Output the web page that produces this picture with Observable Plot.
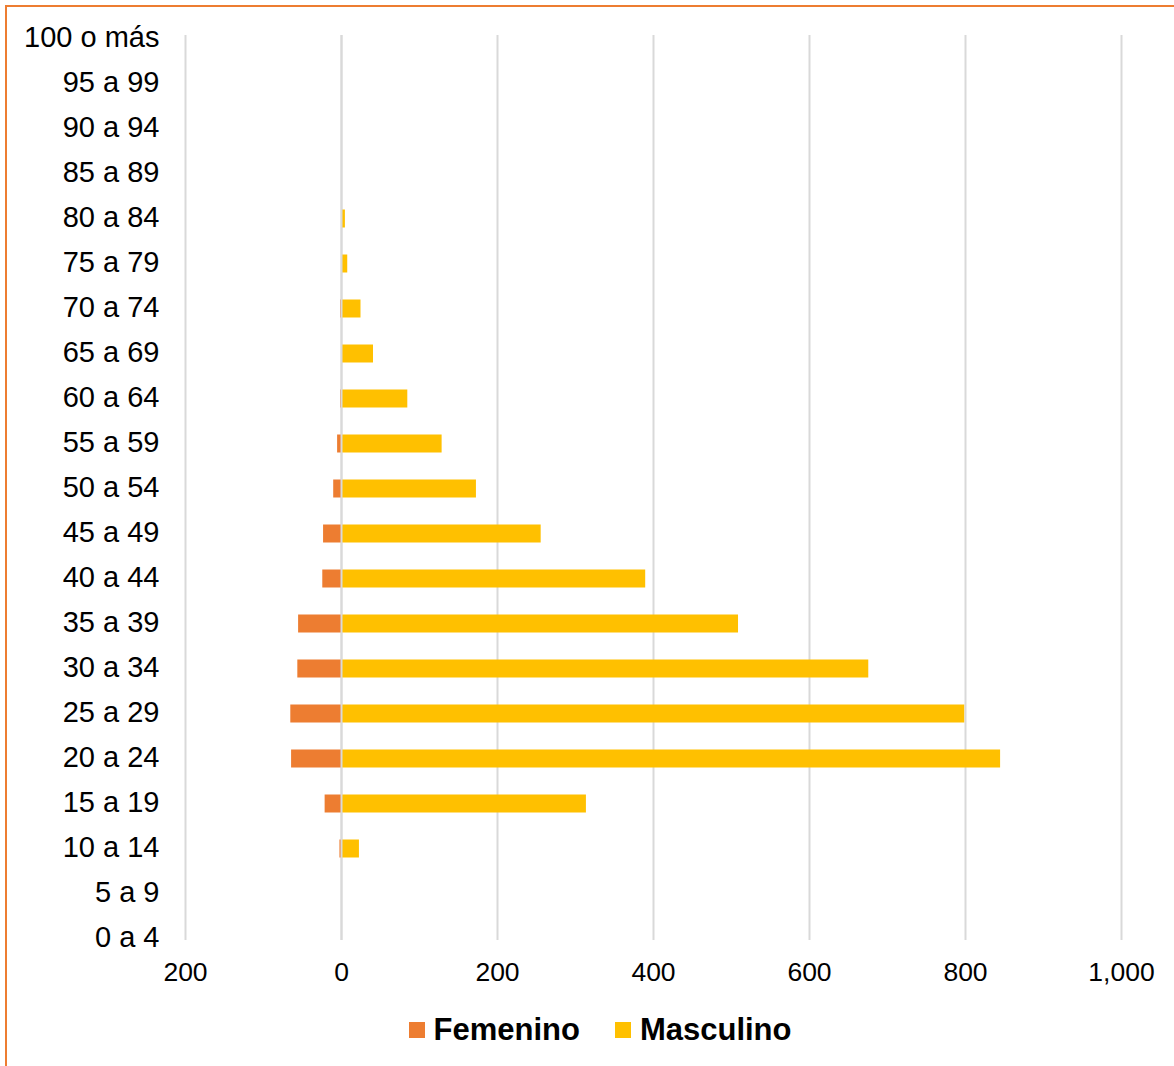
<!DOCTYPE html>
<html>
<head>
<meta charset="utf-8">
<script src="https://cdn.jsdelivr.net/npm/d3@7"></script>
<script src="https://cdn.jsdelivr.net/npm/@observablehq/plot@0.6"></script>
<style>
  html, body { margin: 0; padding: 0; background: #fff; overflow: hidden; }
  body { width: 1174px; height: 1066px; position: relative; font-family: "Liberation Sans", Arial, sans-serif; }
  #frame { position: absolute; left: 5px; top: 5px; width: 1200px; height: 1100px;
           border-left: 2px solid #ED7D31; border-top: 2px solid #ED7D31; box-sizing: border-box; }
  #chart { position: absolute; left: 0; top: 0; }
  #legend { position: absolute; left: 0; top: 1000px; width: 1174px; height: 60px; padding-left: 26px; box-sizing: border-box;
            display: flex; justify-content: center; align-items: center; gap: 35px;
            font-weight: bold; font-size: 31px; color: #000; }
  .item { display: flex; align-items: center; gap: 9px; }
  .sw { width: 16px; height: 16px; display: inline-block; }
</style>
</head>
<body>
<div id="frame"></div>
<div id="chart"></div>
<div id="legend"></div>
<script>
const ages = ["0 a 4","5 a 9","10 a 14","15 a 19","20 a 24","25 a 29","30 a 34","35 a 39","40 a 44","45 a 49",
              "50 a 54","55 a 59","60 a 64","65 a 69","70 a 74","75 a 79","80 a 84","85 a 89","90 a 94","95 a 99","100 o más"];
const masculino = [0, 1, 23, 314, 845, 799, 676, 509, 390, 256, 173, 129, 85, 41, 25, 8, 5, 1, 1, 0, 0];
const femenino  = [0, 0, 2, 21, 64, 65, 56, 55, 24, 23, 10, 5, 1, 0, 1, 0, 0, 0, 0, 0, 0];
const xTicks = [-200, 0, 200, 400, 600, 800, 1000];
const series = ["Femenino", "Masculino"];
const colors = ["#ED7D31", "#FFC000"];

const rows = [];
ages.forEach((a, i) => {
  rows.push({age: a, sex: "Femenino", value: -femenino[i]});
  rows.push({age: a, sex: "Masculino", value: masculino[i]});
});

const fmt = d3.format(",");
const plot = Plot.plot({
  width: 1174,
  height: 1000,
  marginLeft: 185,
  marginRight: 53,
  marginTop: 35,
  marginBottom: 60,
  style: {fontFamily: "'Liberation Sans', Arial, sans-serif", color: "#000", background: "transparent"},
  x: {domain: [-200, 1000], axis: null},
  y: {type: "point", domain: ages.slice().reverse(), padding: 0, axis: null},
  color: {domain: series, range: colors},
  marks: [
    Plot.ruleX(xTicks, {stroke: "#D9D9D9", strokeWidth: 2}),
    Plot.ruleY(rows.filter(d => d.value !== 0), {y: "age", x1: 0, x2: "value", stroke: "sex", strokeWidth: 18}),
    Plot.ruleX([0], {stroke: "#D9D9D9", strokeWidth: 2}),
    Plot.text(xTicks, {x: d => d, frameAnchor: "bottom", lineAnchor: "middle", dy: 32, text: d => fmt(Math.abs(d)), fontSize: 26.5}),
    Plot.text(ages, {y: d => d, frameAnchor: "left", lineAnchor: "middle", dx: -26, dy: -1, textAnchor: "end", text: d => d, fontSize: 29})
  ]
});
document.getElementById("chart").appendChild(plot);

const legend = document.getElementById("legend");
series.forEach((s, i) => {
  const it = document.createElement("div");
  it.className = "item";
  const sw = document.createElement("span");
  sw.className = "sw";
  sw.style.background = colors[i];
  const t = document.createElement("span");
  t.textContent = s;
  it.appendChild(sw); it.appendChild(t);
  legend.appendChild(it);
});
</script>
</body>
</html>
